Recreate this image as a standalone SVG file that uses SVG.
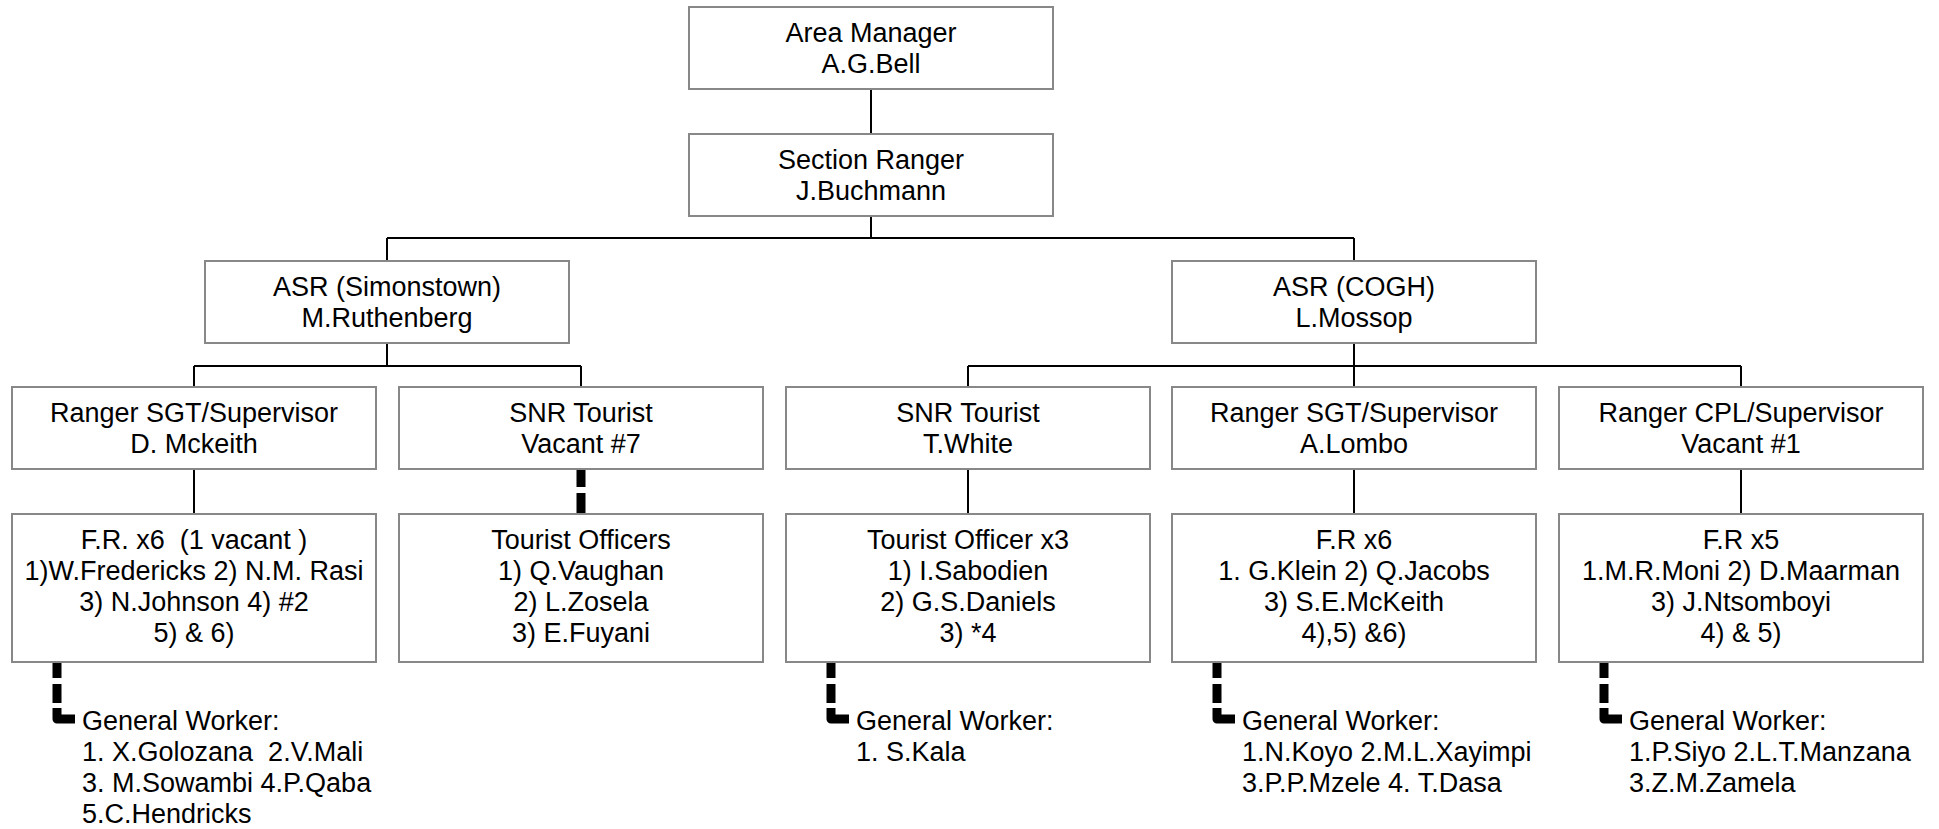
<svg xmlns="http://www.w3.org/2000/svg" width="1939" height="829" viewBox="0 0 1939 829">
<style>
.box{fill:#fff;stroke:#888;stroke-width:2}
.t{font-family:"Liberation Sans",Arial,sans-serif;font-size:27px;fill:#000;white-space:pre}
.c{text-anchor:middle}
.ln{fill:none;stroke:#000;stroke-width:2}
.dash{fill:none;stroke:#000;stroke-width:9}
.ell{fill:none;stroke:#000;stroke-width:9;stroke-linejoin:round}
</style>
<rect width="1939" height="829" fill="#fff"/>
<g id="connectors">
<path class="ln" d="M871,89V134M871,216V238M387,238H1354M387,238V261M1354,238V261"/>
<path class="ln" d="M387,343V366M194,366H581M194,366V387M581,366V387"/>
<path class="ln" d="M1354,343V387M968,366H1741M968,366V387M1741,366V387"/>
<path class="ln" d="M194,469V514M968,469V514M1354,469V514M1741,469V514"/>
<path class="dash" d="M581,470V487M581,493V514"/>
<path class="dash" d="M57,662V678M57,684V703M831,662V678M831,684V703M1217,662V678M1217,684V703M1604,662V678M1604,684V703"/>
<path class="ell" d="M57,708V719H75M831,708V719H849M1217,708V719H1235M1604,708V719H1622"/>
</g>
<g id="area-manager">
<rect class="box" x="689" y="7" width="364" height="82"/>
<text class="t c" x="871" y="41.5">Area Manager</text>
<text class="t c" x="871" y="72.5">A.G.Bell</text>
</g>
<g id="section-ranger">
<rect class="box" x="689" y="134" width="364" height="82"/>
<text class="t c" x="871" y="168.5">Section Ranger</text>
<text class="t c" x="871" y="199.5">J.Buchmann</text>
</g>
<g id="asr-simonstown">
<rect class="box" x="205" y="261" width="364" height="82"/>
<text class="t c" x="387" y="295.5">ASR (Simonstown)</text>
<text class="t c" x="387" y="326.5">M.Ruthenberg</text>
</g>
<g id="asr-cogh">
<rect class="box" x="1172" y="261" width="364" height="82"/>
<text class="t c" x="1354" y="295.5">ASR (COGH)</text>
<text class="t c" x="1354" y="326.5">L.Mossop</text>
</g>
<g id="ranger-sgt-mckeith">
<rect class="box" x="12" y="387" width="364" height="82"/>
<text class="t c" x="194" y="421.5">Ranger SGT/Supervisor</text>
<text class="t c" x="194" y="452.5">D. Mckeith</text>
</g>
<g id="snr-tourist-vacant">
<rect class="box" x="399" y="387" width="364" height="82"/>
<text class="t c" x="581" y="421.5">SNR Tourist</text>
<text class="t c" x="581" y="452.5">Vacant #7</text>
</g>
<g id="snr-tourist-white">
<rect class="box" x="786" y="387" width="364" height="82"/>
<text class="t c" x="968" y="421.5">SNR Tourist</text>
<text class="t c" x="968" y="452.5">T.White</text>
</g>
<g id="ranger-sgt-lombo">
<rect class="box" x="1172" y="387" width="364" height="82"/>
<text class="t c" x="1354" y="421.5">Ranger SGT/Supervisor</text>
<text class="t c" x="1354" y="452.5">A.Lombo</text>
</g>
<g id="ranger-cpl-vacant">
<rect class="box" x="1559" y="387" width="364" height="82"/>
<text class="t c" x="1741" y="421.5">Ranger CPL/Supervisor</text>
<text class="t c" x="1741" y="452.5">Vacant #1</text>
</g>
<g id="fr-x6-simonstown">
<rect class="box" x="12" y="514" width="364" height="148"/>
<text class="t c" x="194" y="548.5">F.R. x6  (1 vacant )</text>
<text class="t c" x="194" y="579.5">1)W.Fredericks 2) N.M. Rasi</text>
<text class="t c" x="194" y="610.5">3) N.Johnson 4) #2</text>
<text class="t c" x="194" y="641.5">5) &amp; 6)</text>
</g>
<g id="tourist-officers">
<rect class="box" x="399" y="514" width="364" height="148"/>
<text class="t c" x="581" y="548.5">Tourist Officers</text>
<text class="t c" x="581" y="579.5">1) Q.Vaughan</text>
<text class="t c" x="581" y="610.5">2) L.Zosela</text>
<text class="t c" x="581" y="641.5">3) E.Fuyani</text>
</g>
<g id="tourist-officer-x3">
<rect class="box" x="786" y="514" width="364" height="148"/>
<text class="t c" x="968" y="548.5">Tourist Officer x3</text>
<text class="t c" x="968" y="579.5">1) I.Sabodien</text>
<text class="t c" x="968" y="610.5">2) G.S.Daniels</text>
<text class="t c" x="968" y="641.5">3) *4</text>
</g>
<g id="fr-x6-cogh">
<rect class="box" x="1172" y="514" width="364" height="148"/>
<text class="t c" x="1354" y="548.5">F.R x6</text>
<text class="t c" x="1354" y="579.5">1. G.Klein 2) Q.Jacobs</text>
<text class="t c" x="1354" y="610.5">3) S.E.McKeith</text>
<text class="t c" x="1354" y="641.5">4),5) &amp;6)</text>
</g>
<g id="fr-x5">
<rect class="box" x="1559" y="514" width="364" height="148"/>
<text class="t c" x="1741" y="548.5">F.R x5</text>
<text class="t c" x="1741" y="579.5">1.M.R.Moni 2) D.Maarman</text>
<text class="t c" x="1741" y="610.5">3) J.Ntsomboyi</text>
<text class="t c" x="1741" y="641.5">4) &amp; 5)</text>
</g>
<g id="gw-simonstown">
<text class="t" x="82" y="730">General Worker:</text>
<text class="t" x="82" y="761">1. X.Golozana  2.V.Mali</text>
<text class="t" x="82" y="792">3. M.Sowambi 4.P.Qaba</text>
<text class="t" x="82" y="823">5.C.Hendricks</text>
</g>
<g id="gw-tourism">
<text class="t" x="856" y="730">General Worker:</text>
<text class="t" x="856" y="761">1. S.Kala</text>
</g>
<g id="gw-lombo">
<text class="t" x="1242" y="730">General Worker:</text>
<text class="t" x="1242" y="761">1.N.Koyo 2.M.L.Xayimpi</text>
<text class="t" x="1242" y="792">3.P.P.Mzele 4. T.Dasa</text>
</g>
<g id="gw-cpl">
<text class="t" x="1629" y="730">General Worker:</text>
<text class="t" x="1629" y="761">1.P.Siyo 2.L.T.Manzana</text>
<text class="t" x="1629" y="792">3.Z.M.Zamela</text>
</g>
</svg>
